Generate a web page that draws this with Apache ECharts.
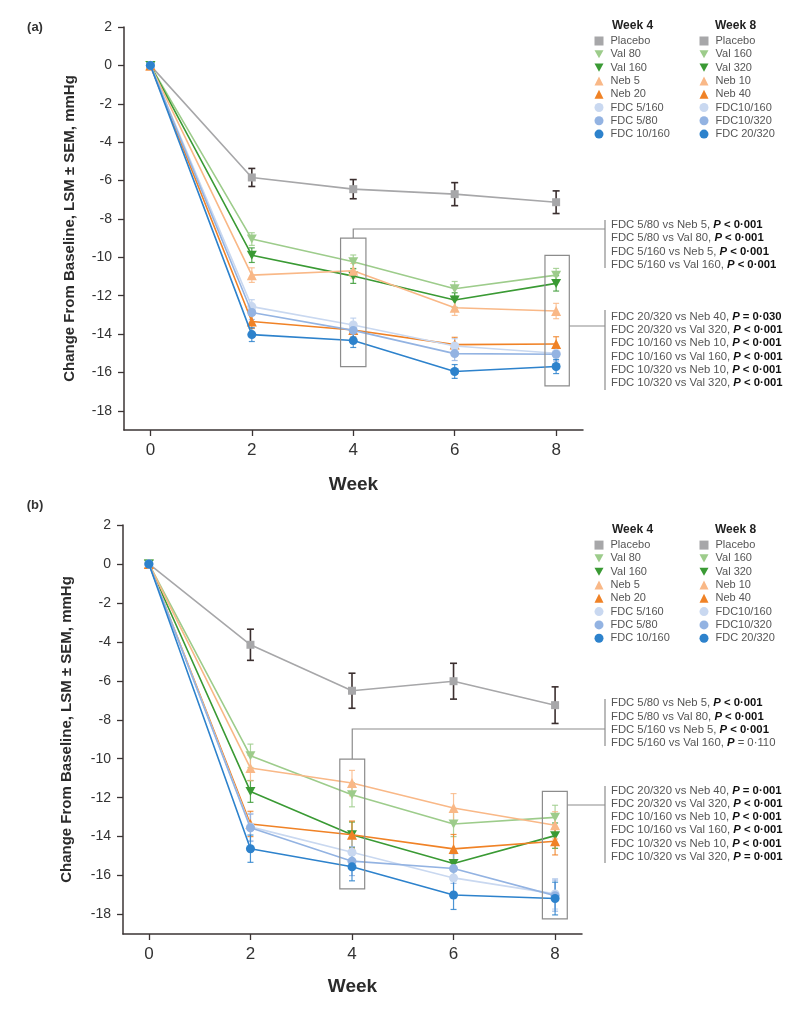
<!DOCTYPE html>
<html>
<head>
<meta charset="utf-8">
<script src="https://cdn.jsdelivr.net/npm/echarts@6/dist/echarts.min.js"></script>
<style>html,body{margin:0;padding:0;background:#fff;}#c{width:800px;height:1013px;}</style>
</head>
<body>
<div id="c"></div>
<script>
// ---------- data ----------
const weeks = [0, 2, 4, 6, 8];
const xTicks = [0, 2, 4, 6, 8];
const yTicks = [2, 0, -2, -4, -6, -8, -10, -12, -14, -16, -18];
const legendWeek4 = ['Placebo', 'Val 80', 'Val 160', 'Neb 5', 'Neb 20', 'FDC 5/160', 'FDC 5/80', 'FDC 10/160'];
const legendWeek8 = ['Placebo', 'Val 160', 'Val 320', 'Neb 10', 'Neb 40', 'FDC10/160', 'FDC10/320', 'FDC 20/320'];

// Panel (a) means and SEM
const a_placebo   = [0, -5.84, -6.45, -6.71, -7.13];
const a_placeboSE = [0, 0.47, 0.50, 0.60, 0.59];
const a_valLo     = [0, -9.05, -10.23, -11.64, -10.93];
const a_valLoSE   = [0, 0.33, 0.35, 0.38, 0.35];
const a_valHi     = [0, -9.89, -10.98, -12.23, -11.36];
const a_valHiSE   = [0, 0.38, 0.38, 0.38, 0.40];
const a_nebLo     = [0, -10.93, -10.70, -12.63, -12.80];
const a_nebLoSE   = [0, 0.38, 0.38, 0.40, 0.40];
const a_nebHi     = [0, -13.35, -13.79, -14.55, -14.52];
const a_nebHiSE   = [0, 0.36, 0.36, 0.38, 0.38];
const a_fdcA      = [0, -12.57, -13.53, -14.62, -15.00];
const a_fdcASE    = [0, 0.36, 0.36, 0.38, 0.36];
const a_fdcB      = [0, -12.88, -13.81, -15.02, -15.05];
const a_fdcBSE    = [0, 0.36, 0.36, 0.36, 0.36];
const a_fdcC      = [0, -14.03, -14.34, -15.95, -15.69];
const a_fdcCSE    = [0, 0.36, 0.36, 0.36, 0.37];

// Panel (b) means and SEM
const b_placebo   = [0, -4.15, -6.51, -6.02, -7.25];
const b_placeboSE = [0, 0.80, 0.90, 0.92, 0.94];
const b_valLo     = [0, -9.85, -11.85, -13.35, -13.01];
const b_valLoSE   = [0, 0.60, 0.62, 0.65, 0.62];
const b_valHi     = [0, -11.68, -13.90, -15.38, -13.95];
const b_valHiSE   = [0, 0.56, 0.65, 0.65, 0.65];
const b_nebLo     = [0, -10.48, -11.25, -12.53, -13.42];
const b_nebLoSE   = [0, 0.65, 0.65, 0.74, 0.70];
const b_nebHi     = [0, -13.35, -13.90, -14.63, -14.24];
const b_nebHiSE   = [0, 0.65, 0.70, 0.74, 0.70];
const b_fdcA      = [0, -13.50, -14.80, -16.12, -16.94];
const b_fdcASE    = [0, 0.70, 0.74, 0.76, 0.78];
const b_fdcB      = [0, -13.55, -15.26, -15.64, -17.03];
const b_fdcBSE    = [0, 0.70, 0.74, 0.76, 0.80];
const b_fdcC      = [0, -14.62, -15.55, -17.00, -17.18];
const b_fdcCSE    = [0, 0.70, 0.72, 0.74, 0.84];

// Comparison annotations: [comparison, p-value text, bold?]
const a_notes4 = [
  ['FDC 5/80 vs Neb 5, ', '< 0·001', true],
  ['FDC 5/80 vs Val 80, ', '< 0·001', true],
  ['FDC 5/160 vs Neb 5, ', '< 0·001', true],
  ['FDC 5/160 vs Val 160, ', '< 0·001', true]
];
const a_notes8 = [
  ['FDC 20/320 vs Neb 40, ', '= 0·030', true],
  ['FDC 20/320 vs Val 320, ', '< 0·001', true],
  ['FDC 10/160 vs Neb 10, ', '< 0·001', true],
  ['FDC 10/160 vs Val 160, ', '< 0·001', true],
  ['FDC 10/320 vs Neb 10, ', '< 0·001', true],
  ['FDC 10/320 vs Val 320, ', '< 0·001', true]
];
const b_notes4 = [
  ['FDC 5/80 vs Neb 5, ', '< 0·001', true],
  ['FDC 5/80 vs Val 80, ', '< 0·001', true],
  ['FDC 5/160 vs Neb 5, ', '< 0·001', true],
  ['FDC 5/160 vs Val 160, ', '= 0·110', false]
];
const b_notes8 = [
  ['FDC 20/320 vs Neb 40, ', '= 0·001', true],
  ['FDC 20/320 vs Val 320, ', '< 0·001', true],
  ['FDC 10/160 vs Neb 10, ', '< 0·001', true],
  ['FDC 10/160 vs Val 160, ', '< 0·001', true],
  ['FDC 10/320 vs Neb 10, ', '< 0·001', true],
  ['FDC 10/320 vs Val 320, ', '= 0·001', true]
];

// ---------- styling / layout ----------
const FONT = '"Liberation Sans", Arial, Helvetica, sans-serif';
const AXIS = '#3b3434';
const colors = ['#a7a7a9', '#9dcc8b', '#3a9a34', '#f9b887', '#f08226', '#c9d8f0', '#93b3e2', '#2d82cc'];
const errColors = ['#3b2f2f', '#9dcc8b', '#3a9a34', '#f9b887', '#f08226', '#b9cdec', '#93b3e2', '#2d82cc'];
const DOWN = 'path://M0,0L10,0L5,9Z';
const symbols = ['rect', DOWN, DOWN, 'triangle', 'triangle', 'circle', 'circle', 'circle'];
const symSizes = [8, 10, 10, 10, 10, 9, 9, 9];

const panels = [
  { means: [a_placebo, a_valLo, a_valHi, a_nebLo, a_nebHi, a_fdcA, a_fdcB, a_fdcC],
    sems: [a_placeboSE, a_valLoSE, a_valHiSE, a_nebLoSE, a_nebHiSE, a_fdcASE, a_fdcBSE, a_fdcCSE],
    grid: { left: 124, top: 27, width: 459, height: 403 }, xr: [-0.52, 8.53], nameGap: 47,
    boxes: [ { x1: 3.75, x2: 4.25, y1: -9.0, y2: -15.7, from: 'top', joinY: 229 },
             { x1: 7.78, x2: 8.26, y1: -9.9, y2: -16.7, from: 'right', joinY: 326 } ],
    notes: [ { lines: a_notes4, y0: 225, br: [220, 268] }, { lines: a_notes8, y0: 316.7, br: [310, 390] } ],
    label: '(a)', labelY: 27, legendTop: 35.5, headerY: 26, weekGap: 45 },
  { means: [b_placebo, b_valLo, b_valHi, b_nebLo, b_nebHi, b_fdcA, b_fdcB, b_fdcC],
    sems: [b_placeboSE, b_valLoSE, b_valHiSE, b_nebLoSE, b_nebHiSE, b_fdcASE, b_fdcBSE, b_fdcCSE],
    grid: { left: 123, top: 525, width: 459, height: 409 }, xr: [-0.51, 8.53], nameGap: 49,
    boxes: [ { x1: 3.76, x2: 4.25, y1: -10.02, y2: -16.68, from: 'top', joinY: 729 },
             { x1: 7.75, x2: 8.24, y1: -11.68, y2: -18.22, from: 'right', joinY: 805 } ],
    notes: [ { lines: b_notes4, y0: 703.3, br: [699, 746] }, { lines: b_notes8, y0: 790.5, br: [786, 863] } ],
    label: '(b)', labelY: 505, legendTop: 539.6, headerY: 530, weekGap: 43 }
];
const BRACKET_X = 605, TEXT_X = 611, LINE_H = 13.25, NOTE_FS = 11.3;

const grids = [], xAxes = [], yAxes = [], series = [], legends = [], graphics = [];

panels.forEach((p, pi) => {
  grids.push(Object.assign({ outerBoundsMode: 'none', containLabel: false }, p.grid));
  xAxes.push({
    gridIndex: pi, type: 'value', min: p.xr[0], max: p.xr[1],
    name: 'Week', nameLocation: 'middle', nameGap: p.weekGap,
    nameTextStyle: { fontFamily: FONT, fontSize: 19, fontWeight: 'bold', color: '#2b2b2b' },
    axisLine: { show: true, onZero: false, lineStyle: { color: AXIS, width: 1.5 } },
    axisTick: { show: true, length: 6, lineStyle: { color: AXIS, width: 1.3 }, customValues: xTicks },
    axisLabel: { fontFamily: FONT, fontSize: 17, color: '#333', margin: 12, customValues: xTicks },
    splitLine: { show: false }
  });
  yAxes.push({
    gridIndex: pi, type: 'value', min: -19, max: 2,
    name: 'Change From Baseline, LSM ± SEM, mmHg', nameLocation: 'middle', nameRotate: 90, nameGap: p.nameGap,
    nameTextStyle: { fontFamily: FONT, fontSize: 15, fontWeight: 'bold', color: '#2b2b2b' },
    axisLine: { show: true, onZero: false, lineStyle: { color: AXIS, width: 1.5 } },
    axisTick: { show: true, length: 6, lineStyle: { color: AXIS, width: 1.3 }, customValues: yTicks },
    axisLabel: { fontFamily: FONT, fontSize: 14, color: '#333', margin: 12, customValues: yTicks },
    splitLine: { show: false }
  });

  // error bars (drawn beneath)
  p.means.forEach((m, si) => {
    const col = errColors[si];
    const isPl = si === 0;
    series.push({
      type: 'custom', name: legendWeek4[si] + ' SEM ' + pi, xAxisIndex: pi, yAxisIndex: pi, z: 2,
      silent: true,
      data: weeks.map((w, k) => [w, m[k], p.sems[si][k]]),
      encode: { x: 0, y: 1 },
      renderItem: function (params, api) {
        const x = api.value(0), y = api.value(1), s = api.value(2);
        if (!s) return null;
        const t = api.coord([x, y + s]), b = api.coord([x, y - s]);
        const hw = isPl ? 3.5 : 3;
        const st = { stroke: col, lineWidth: isPl ? 1.6 : 1.2, opacity: isPl ? 1 : 0.85 };
        return { type: 'group', children: [
          { type: 'line', shape: { x1: t[0], y1: t[1], x2: b[0], y2: b[1] }, style: st },
          { type: 'line', shape: { x1: t[0] - hw, y1: t[1], x2: t[0] + hw, y2: t[1] }, style: st },
          { type: 'line', shape: { x1: b[0] - hw, y1: b[1], x2: b[0] + hw, y2: b[1] }, style: st }
        ] };
      }
    });
  });
  // lines
  p.means.forEach((m, si) => {
    series.push({
      type: 'line', name: legendWeek4[si], xAxisIndex: pi, yAxisIndex: pi, z: 3 + si * 0.01,
      data: weeks.map((w, k) => [w, m[k]]),
      symbol: symbols[si], symbolSize: symSizes[si], symbolKeepAspect: true,
      showAllSymbol: true,
      lineStyle: { color: colors[si], width: 1.6 },
      itemStyle: { color: colors[si] },
      emphasis: { disabled: true },
      animation: false
    });
  });
  // annotation boxes + connectors
  const boxes = p.boxes;
  series.push({
    type: 'custom', name: 'boxes' + pi, xAxisIndex: pi, yAxisIndex: pi, z: 4, silent: true, clip: false,
    data: boxes.map(bx => [bx.x1, bx.y1]),
    encode: { x: 0, y: 1 },
    renderItem: function (params, api) {
      const bx = boxes[params.dataIndex];
      const p1 = api.coord([bx.x1, bx.y1]), p2 = api.coord([bx.x2, bx.y2]);
      const st = { stroke: '#8c8c8c', lineWidth: 1.2, fill: null };
      const kids = [{ type: 'rect', shape: { x: p1[0], y: p1[1], width: p2[0] - p1[0], height: p2[1] - p1[1] }, style: st }];
      if (bx.from === 'top') {
        const mx = (p1[0] + p2[0]) / 2;
        kids.push({ type: 'polyline', shape: { points: [[mx, p1[1]], [mx, bx.joinY], [BRACKET_X, bx.joinY]] }, style: st });
      } else {
        kids.push({ type: 'line', shape: { x1: p2[0], y1: bx.joinY, x2: BRACKET_X, y2: bx.joinY }, style: st });
      }
      return { type: 'group', children: kids };
    }
  });

  // notes
  p.notes.forEach(n => {
    graphics.push({ type: 'line', silent: true, shape: { x1: BRACKET_X, y1: n.br[0], x2: BRACKET_X, y2: n.br[1] },
      style: { stroke: '#8c8c8c', lineWidth: 1.2 } });
    n.lines.forEach((ln, k) => {
      graphics.push({
        type: 'text', silent: true, x: TEXT_X, y: n.y0 + k * LINE_H,
        style: {
          text: ln[0] + '{p|P}' + (ln[2] ? '{b| ' + ln[1] + '}' : '{n| ' + ln[1] + '}'),
          fontFamily: FONT, fontSize: NOTE_FS, fill: '#555', align: 'left', verticalAlign: 'middle',
          rich: {
            p: { fontFamily: FONT, fontSize: NOTE_FS, fontWeight: 'bold', fontStyle: 'italic', fill: '#111' },
            b: { fontFamily: FONT, fontSize: NOTE_FS, fontWeight: 'bold', fill: '#111' },
            n: { fontFamily: FONT, fontSize: NOTE_FS, fill: '#555' }
          }
        }
      });
    });
  });

  // panel label and legend headers
  graphics.push({ type: 'text', silent: true, x: 35, y: p.labelY,
    style: { text: p.label, fontFamily: FONT, fontSize: 13, fontWeight: 'bold', fill: '#333', align: 'center', verticalAlign: 'middle' } });
  graphics.push({ type: 'text', silent: true, x: 612, y: p.headerY,
    style: { text: 'Week 4', fontFamily: FONT, fontSize: 12, fontWeight: 'bold', fill: '#222', align: 'left', verticalAlign: 'middle' } });
  graphics.push({ type: 'text', silent: true, x: 715, y: p.headerY,
    style: { text: 'Week 8', fontFamily: FONT, fontSize: 12, fontWeight: 'bold', fill: '#222', align: 'left', verticalAlign: 'middle' } });

  // legends (two columns share the same series)
  [[594.5, n => n], [699.5, n => legendWeek8[legendWeek4.indexOf(n)]]].forEach(([left, fmt]) => {
    legends.push({
      orient: 'vertical', left: left, top: p.legendTop, itemWidth: 9, itemHeight: 9, itemGap: 2.3,
      selectedMode: false, symbolRotate: 0, padding: 0,
      textStyle: { fontFamily: FONT, fontSize: 11, color: '#555', padding: [0, 0, 0, 2] },
      data: legendWeek4.map((n, i) => ({ name: n, icon: symbols[i] })),
      formatter: fmt
    });
  });
});

const chart = echarts.init(document.getElementById('c'), null, { renderer: 'canvas' });
chart.setOption({
  backgroundColor: '#fff',
  animation: false,
  grid: grids, xAxis: xAxes, yAxis: yAxes,
  legend: legends,
  series: series,
  graphic: graphics
});
</script>
</body>
</html>
